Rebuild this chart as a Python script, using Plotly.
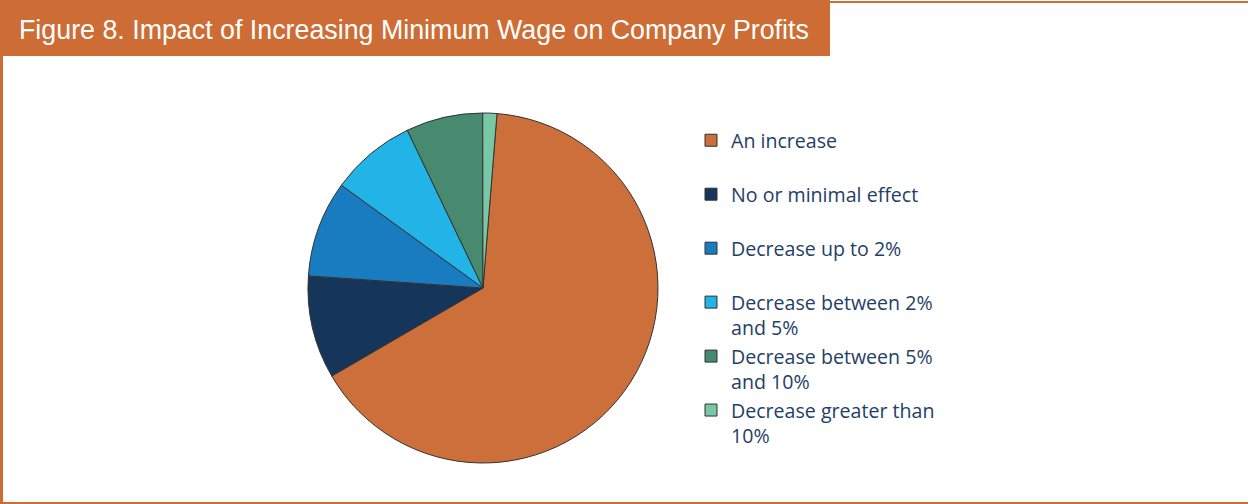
import plotly.graph_objects as go

W, H = 1248, 504

labels = [
    "An increase",
    "No or minimal effect",
    "Decrease up to 2%",
    "Decrease between 2%<br>and 5%",
    "Decrease between 5%<br>and 10%",
    "Decrease greater than<br>10%",
]
values = [65.4, 9.5, 8.9, 7.9, 7.1, 1.3]
colors = ["#CD6F3A", "#16355A", "#1A7CC0", "#22B3E7", "#478A70", "#78C7A5"]

title_text = "Figure 8. Impact of Increasing Minimum Wage on Company Profits"
ORANGE = "#CD6D35"

# pad single-line labels so every legend entry occupies two lines
legend_labels = [l if "<br>" in l else l + "<br>&nbsp;" for l in labels]

fig = go.Figure(go.Pie(
    labels=legend_labels,
    values=values,
    sort=False,
    direction="clockwise",
    rotation=4.6,
    marker=dict(colors=colors, line=dict(color="#333333", width=1)),
    textinfo="none",
    hoverinfo="skip",
    domain=dict(x=[0.387 - 0.2, 0.387 + 0.2], y=[(H - 288 - 175) / H, (H - 288 + 175) / H]),
))

def px(x):
    return x / W

def py(y):
    return 1 - y / H

shapes = [
    dict(type="rect", xref="paper", yref="paper", x0=0, x1=px(830), y0=py(56), y1=1,
         fillcolor=ORANGE, line=dict(width=0), layer="below"),
    dict(type="line", xref="paper", yref="paper", x0=px(1.5), x1=px(1.5), y0=py(56), y1=0,
         line=dict(color=ORANGE, width=3)),
    dict(type="line", xref="paper", yref="paper", x0=0, x1=1, y0=py(503), y1=py(503),
         line=dict(color=ORANGE, width=2)),
    dict(type="line", xref="paper", yref="paper", x0=px(830), x1=1, y0=py(2), y1=py(2),
         line=dict(color=ORANGE, width=2)),
]

fig.update_layout(
    width=W, height=H,
    margin=dict(l=0, r=0, t=0, b=0),
    paper_bgcolor="white",
    plot_bgcolor="white",
    shapes=shapes,
    annotations=[dict(
        text=title_text, xref="paper", yref="paper", x=px(17), y=py(30),
        xanchor="left", yanchor="middle", showarrow=False,
        font=dict(family="Liberation Sans, Arial", size=26.8, color="white"),
    )],
    showlegend=True,
    legend=dict(
        x=px(691), y=py(121), xanchor="left", yanchor="top",
        font=dict(family="Open Sans", size=19.6, color="#1F3F66"),
        valign="top", bgcolor="rgba(0,0,0,0)",
    ),
)

fig.write_html("out.html", config={"displayModeBar": False},
               post_script="document.body.style.margin='0';document.body.style.padding='0';")
